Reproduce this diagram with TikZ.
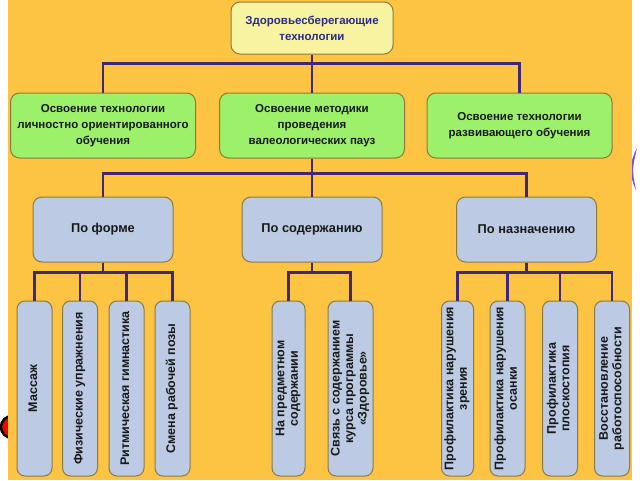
\documentclass[tikz,border=0pt]{standalone}
\usepackage{fontspec}
\setmainfont{Liberation Sans}
\usepackage{graphicx}
\usepackage{xcolor}
\usepackage{tikz}
\usetikzlibrary{positioning}
\definecolor{bgorange}{RGB}{252,196,66}
\definecolor{topyellow}{RGB}{248,243,160}
\definecolor{topnavy}{RGB}{43,42,140}
\definecolor{branchgreen}{RGB}{156,240,106}
\definecolor{groupblue}{RGB}{188,203,227}
\definecolor{boxedge}{RGB}{140,122,64}
\definecolor{linkpurple}{RGB}{64,40,118}
\definecolor{slidepurple}{RGB}{124,80,224}
\newcommand{\vtext}[1]{\rotatebox{90}{\begin{tabular}{@{}c@{}}#1\end{tabular}}}
\tikzset{
	node distance=46pt,
	on grid,
	box/.style={draw=boxedge, line width=1pt, rounded corners=9pt, align=center, text=black!90,
		font=\bfseries\fontsize{11.5}{16}\selectfont, inner sep=2pt},
	topic/.style={box, fill=topyellow, text=topnavy, minimum width=162pt, minimum height=52pt},
	branch/.style={box, fill=branchgreen, minimum width=185pt, minimum height=65pt},
	group/.style={box, fill=groupblue, minimum width=140pt, minimum height=65pt,
		font=\bfseries\fontsize{12.8}{15}\selectfont},
	leaf/.style={box, fill=groupblue, rounded corners=8pt, minimum width=35pt, minimum height=175pt,
		inner sep=0pt, font=\bfseries\fontsize{12.5}{13.5}\selectfont},
	link/.style={draw=linkpurple, line width=2.2pt}, % tree connectors
}
\begin{document}
\begin{tikzpicture}[x=1pt, y=-1pt]
        \useasboundingbox (0,0) rectangle (640,480);
        % slide behind the chart
        \fill[white] (0,0) rectangle (640,480);
        \fill[slidepurple] (637,148) .. controls (629,162) and (629,176) .. (636,190) .. controls (632,170) .. (637,148) -- cycle;
        \draw[line width=2.5pt, fill=red] (12,427) circle (11);
        \fill[bgorange] (8,0) rectangle (632,480);

        \node[topic] (top) at (312,28) {Здоровьесберегающие\\технологии};

        \node[branch] (g1) at (103,125.5) {Освоение технологии\\личностно ориентированного\\обучения};
        \node[branch] (g2) at (312,125.5) {Освоение методики\\проведения\\валеологических пауз};
        \node[branch] (g3) at (519.5,125.5) {Освоение технологии\\развивающего обучения};

        \node[group] (b1) at (103,229.5) {По форме};
        \node[group] (b2) at (312,229.5) {По содержанию};
        \node[group] (b3) at (526.5,229.5) {По назначению};

        \node[leaf] (l1) at (34.5,388.5) {\vtext{Массаж}};
        \node[leaf, right=45.5pt of l1] (l2) {\vtext{Физические упражнения}};
        \node[leaf, right=46.5pt of l2] (l3) {\vtext{Ритмическая гимнастика}};
        \node[leaf, right=46pt of l3] (l4) {\vtext{Смена рабочей позы}};

        \node[leaf, minimum width=33pt] (l5) at (288.5,388.5) {\vtext{На предметном\\содержании}};
        \node[leaf, minimum width=45pt, right=62pt of l5] (l6) {\vtext{Связь с содержанием\\курса программы\\«Здоровье»}};

        \node[leaf, minimum width=32pt] (l7) at (457.5,388.5) {\vtext{Профилактика нарушения\\зрения}};
        \node[leaf, right=50pt of l7] (l8) {\vtext{Профилактика нарушения\\осанки}};
        \node[leaf, right=52.5pt of l8] (l9) {\vtext{Профилактика\\плоскостопия}};
        \node[leaf, right=52pt of l9] (l10) {\vtext{Восстановление\\работоспособности}};

        \draw[link] (top.south) -- ++(0,9) -| (g1.north);
        \draw[link] (top.south) -- ++(0,9) -| (g3.north);
        \draw[link] (top.south) -- (g2.north);

        \draw[link] (g2.south) -- ++(0,15) -| (b1.north);
        \draw[link] (g2.south) -- ++(0,15) -| (b3.north);
        \draw[link] (g2.south) -- (b2.north);

        \draw[link] (b1.south) -- ++(0,10) -| (l1.north);
        \draw[link] (b1.south) -- ++(0,10) -| (l2.north);
        \draw[link] (b1.south) -- ++(0,10) -| (l3.north);
        \draw[link] (b1.south) -- ++(0,10) -| (l4.north);
        \draw[link] (b2.south) -- ++(0,10) -| (l5.north);
        \draw[link] (b2.south) -- ++(0,10) -| (l6.north);
        \draw[link] (b3.south) -- ++(0,10) -| (l7.north);
        \draw[link] (b3.south) -- ++(0,10) -| (l8.north);
        \draw[link] (b3.south) -- ++(0,10) -| (l9.north);
        \draw[link] (b3.south) -- ++(0,10) -| (l10.north);
    \end{tikzpicture}
\end{document}
